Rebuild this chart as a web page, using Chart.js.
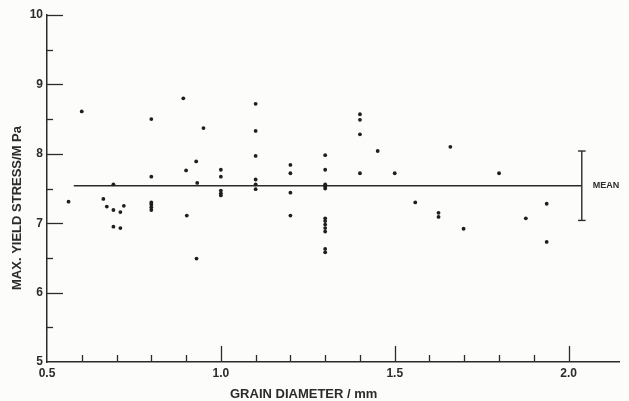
<!DOCTYPE html>
<html>
<head>
<meta charset="utf-8">
<script src="https://cdn.jsdelivr.net/npm/chart.js@4.4.1/dist/chart.umd.min.js"></script>
<style>
  html, body { margin: 0; padding: 0; background: #fcfcfb; }
  #wrap { width: 629px; height: 401px; }
</style>
</head>
<body>
<div id="wrap"><canvas id="chart" width="629" height="401"></canvas></div>
<script>
// grain diameter (mm) and max. yield stress (MPa)
const grainDiameter = [
  0.562, 0.600, 0.662, 0.672, 0.691, 0.691, 0.691, 0.711, 0.711, 0.721,
  0.80, 0.80, 0.80, 0.80, 0.80, 0.80,
  0.892, 0.90, 0.902, 0.929, 0.932, 0.95, 0.93,
  1.0, 1.0, 1.0, 1.0, 1.0,
  1.1, 1.1, 1.1, 1.1, 1.1, 1.1,
  1.2, 1.2, 1.2, 1.2,
  1.3, 1.3, 1.3, 1.3, 1.3, 1.3, 1.3, 1.3, 1.3, 1.3, 1.3, 1.3,
  1.4, 1.4, 1.4, 1.4,
  1.451, 1.50, 1.559, 1.626, 1.626, 1.660, 1.698, 1.80, 1.877, 1.937, 1.937
];
const yieldStress = [
  7.31, 8.61, 7.35, 7.24, 7.56, 7.19, 6.95, 7.16, 6.93, 7.25,
  8.50, 7.67, 7.30, 7.27, 7.23, 7.19,
  8.80, 7.76, 7.11, 7.89, 7.58, 8.37, 6.49,
  7.77, 7.67, 7.47, 7.43, 7.40,
  8.72, 8.33, 7.97, 7.63, 7.56, 7.49,
  7.84, 7.72, 7.44, 7.11,
  7.98, 7.77, 7.56, 7.53, 7.50, 7.07, 7.03, 6.98, 6.93, 6.88, 6.63, 6.58,
  8.57, 8.49, 8.28, 7.72,
  8.04, 7.72, 7.30, 7.15, 7.09, 8.10, 6.92, 7.72, 7.07, 7.28, 6.73
];

const meanStress = 7.54;
const meanSpread = 0.5;
const meanLineFrom = 0.577;
const meanBarAt = 2.038;

const xTickLabels = [0.5, 1.0, 1.5, 2.0];
const xTickMarks = [0.6, 0.7, 0.8, 0.9, 1.0, 1.1, 1.2, 1.3, 1.4, 1.5, 1.6, 1.7, 1.8, 1.9, 2.0];
const yTickLabels = [5, 6, 7, 8, 9, 10];
const yTickMarks = [5.5, 6, 6.5, 7, 7.5, 8, 8.5, 9, 9.5, 10];

const xTitle = 'GRAIN DIAMETER / mm';
const yTitle = 'MAX. YIELD STRESS/M Pa';

const INK = '#2b2b2b';
const FONT = "'Liberation Sans', Arial, sans-serif";

// tick marks point into the plot, as in the original figure; titles sit off-centre
const figureExtras = {
  id: 'figureExtras',
  afterDatasetsDraw(chart) {
    const { ctx, scales: { x, y } } = chart;
    ctx.save();
    ctx.strokeStyle = INK;
    ctx.lineWidth = 1.3;
    xTickMarks.forEach(v => {
      const px = Math.round(x.getPixelForValue(v)) + 0.5;
      const len = xTickLabels.includes(v) ? 16 : 7;
      ctx.beginPath(); ctx.moveTo(px, y.bottom); ctx.lineTo(px, y.bottom - len); ctx.stroke();
    });
    yTickMarks.forEach(v => {
      const py = Math.round(y.getPixelForValue(v)) + 0.5;
      const len = Number.isInteger(v) ? 16 : 6;
      ctx.beginPath(); ctx.moveTo(x.left, py); ctx.lineTo(x.left + len, py); ctx.stroke();
    });

    ctx.fillStyle = INK;
    ctx.textBaseline = 'middle';
    ctx.font = 'bold 9px ' + FONT;
    ctx.fillText('MEAN', x.getPixelForValue(meanBarAt) + 11, y.getPixelForValue(meanStress));

    ctx.font = 'bold 13px ' + FONT;
    ctx.textAlign = 'left';
    ctx.fillText(xTitle, 230, 394);

    ctx.translate(17, 208);
    ctx.rotate(-Math.PI / 2);
    ctx.textAlign = 'center';
    ctx.fillText(yTitle, 0, 0);
    ctx.restore();
  }
};

const points = grainDiameter.map((d, i) => ({ x: d, y: yieldStress[i] }));
const lineStyle = { showLine: true, borderColor: INK, borderWidth: 1.4, pointRadius: 0, fill: false };

new Chart(document.getElementById('chart'), {
  type: 'scatter',
  data: {
    datasets: [
      { data: points, pointRadius: 1.9, pointBackgroundColor: '#1e1e1e', pointBorderWidth: 0 },
      { ...lineStyle, data: [{ x: meanLineFrom, y: meanStress }, { x: meanBarAt, y: meanStress }] },
      { ...lineStyle, data: [{ x: meanBarAt, y: meanStress - meanSpread }, { x: meanBarAt, y: meanStress + meanSpread }] },
      { ...lineStyle, data: [{ x: meanBarAt - 0.011, y: meanStress + meanSpread }, { x: meanBarAt + 0.011, y: meanStress + meanSpread }] },
      { ...lineStyle, data: [{ x: meanBarAt - 0.011, y: meanStress - meanSpread }, { x: meanBarAt + 0.011, y: meanStress - meanSpread }] }
    ]
  },
  options: {
    responsive: false,
    animation: false,
    layout: { padding: { top: 15, right: 10, bottom: 0, left: 0 } },
    plugins: { legend: { display: false }, tooltip: { enabled: false } },
    scales: {
      x: {
        type: 'linear', min: 0.5, max: 2.145,
        afterBuildTicks: s => { s.ticks = xTickLabels.map(v => ({ value: v })); },
        afterFit: s => { s.height = 39; },
        grid: { display: false, drawTicks: false },
        border: { display: true, color: INK, width: 1.5 },
        ticks: { color: INK, padding: 4, font: { family: FONT, size: 12, weight: 'bold' }, callback: v => v.toFixed(1), maxRotation: 0 }
      },
      y: {
        type: 'linear', min: 5, max: 10,
        afterBuildTicks: s => { s.ticks = yTickLabels.map(v => ({ value: v })); },
        afterFit: s => { s.width = 47; },
        grid: { display: false, drawTicks: false },
        border: { display: true, color: INK, width: 1.5 },
        ticks: { color: INK, padding: 4, font: { family: FONT, size: 12, weight: 'bold' } }
      }
    }
  },
  plugins: [figureExtras]
});
</script>
</body>
</html>
